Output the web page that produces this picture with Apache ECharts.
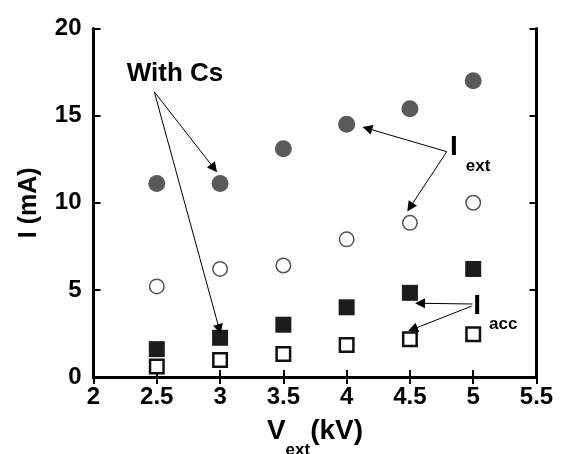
<!DOCTYPE html>
<html><head><meta charset="utf-8">
<script src="https://cdn.jsdelivr.net/npm/echarts@6/dist/echarts.min.js"></script>
<style>html,body{margin:0;padding:0;background:#fff}#c{width:561px;height:454px}</style>
</head><body><div id="c"></div>
<script>
// Data
const voltages = [2.5, 3, 3.5, 4, 4.5, 5];
const iextWithCs = [11.1, 11.1, 13.1, 14.5, 15.4, 17.0];
const iextNoCs   = [5.2, 6.2, 6.4, 7.9, 8.85, 10.0];
const iaccWithCs = [1.6, 2.25, 3.0, 4.0, 4.83, 6.2];
const iaccNoCs   = [0.6, 0.97, 1.32, 1.83, 2.16, 2.46];
const xTicks = [2, 2.5, 3, 3.5, 4, 4.5, 5, 5.5];
const yTicks = [0, 5, 10, 15, 20];

// Annotation texts anchored in data coordinates
const noteText = ['With Cs', 'I', 'ext', 'I', 'acc'];
const noteX    = [2.644, 4.817, 4.941, 5.001, 5.125];
const noteY    = [17.39, 13.21, 12.09, 4.07, 3.03];
const noteKind = ['big', 'I', 'sub', 'I', 'sub'];

// Arrows: [fromX, fromY, toX, toY] in data coordinates
const arrowFromX = [2.480, 2.480, 4.791, 4.791, 4.994, 4.988];
const arrowFromY = [16.37, 16.37, 12.93, 12.93, 4.19, 4.07];
const arrowToX   = [2.952, 2.994, 4.163, 4.501, 4.580, 4.522];
const arrowToY   = [11.98, 2.74, 14.27, 9.74, 4.23, 2.74];

const FONT = "'Liberation Sans', Arial, Helvetica, sans-serif";
const pair = (xs, ys) => xs.map((x, i) => [x, ys[i]]);

const noteStyles = {
  big: {fontSize: 26, align: 'center'},
  I:   {fontSize: 28, align: 'left'},
  sub: {fontSize: 17, align: 'left'}
};

const chart = echarts.init(document.getElementById('c'), null, {renderer: 'canvas'});
const axisCommon = {
  type: 'value',
  axisLine: {show: true, lineStyle: {color: '#000', width: 3}},
  axisTick: {show: true, inside: true, length: 7, lineStyle: {color: '#000', width: 2}},
  splitLine: {show: false}
};
chart.setOption({
  animation: false,
  backgroundColor: '#fff',
  grid: {left: 93.5, right: 24.5, top: 28.5, bottom: 77, containLabel: false, outerBoundsMode: 'none'},
  xAxis: [
    Object.assign({}, axisCommon, {
      position: 'bottom', min: xTicks[0], max: xTicks[xTicks.length - 1], interval: 0.5,
      axisLabel: {show: true, margin: 8, color: '#000', fontFamily: FONT, fontWeight: 'bold', fontSize: 24},
      name: '{v|V}{s|ext}{v|(kV)}', nameLocation: 'middle', nameGap: 27,
      nameTextStyle: {
        rich: {
          v: {fontFamily: FONT, fontWeight: 'bold', fontSize: 28, color: '#000', lineHeight: 55, verticalAlign: 'middle'},
          s: {fontFamily: FONT, fontWeight: 'bold', fontSize: 17, color: '#000', lineHeight: 55, verticalAlign: 'bottom'}
        }
      }
    }),
    Object.assign({}, axisCommon, {
      position: 'top', min: xTicks[0], max: xTicks[xTicks.length - 1], interval: 0.5,
      axisLabel: {show: false}
    })
  ],
  yAxis: [
    Object.assign({}, axisCommon, {
      position: 'left', min: yTicks[0], max: yTicks[yTicks.length - 1], interval: 5,
      axisLabel: {show: true, margin: 12, color: '#000', fontFamily: FONT, fontWeight: 'bold', fontSize: 24, padding: [0, 0, 7, 0]},
      name: 'I (mA)', nameLocation: 'middle', nameGap: 52,
      nameTextStyle: {fontFamily: FONT, fontWeight: 'bold', fontSize: 25, color: '#000'}
    }),
    Object.assign({}, axisCommon, {
      position: 'right', min: yTicks[0], max: yTicks[yTicks.length - 1], interval: 5,
      axisLabel: {show: false}
    })
  ],
  series: [
    {type: 'scatter', name: 'Iext with Cs', data: pair(voltages, iextWithCs), symbol: 'circle', symbolSize: 17,
     itemStyle: {color: '#5a5a5a', opacity: 1}, z: 3},
    {type: 'scatter', name: 'Iext', data: pair(voltages, iextNoCs), symbol: 'circle', symbolSize: 14.5,
     itemStyle: {color: '#fff', borderColor: '#555', borderWidth: 1.5, opacity: 1}, z: 3},
    {type: 'scatter', name: 'Iacc with Cs', data: pair(voltages, iaccWithCs), symbol: 'rect', symbolSize: 16,
     itemStyle: {color: '#1c1c1c', opacity: 1}, z: 3},
    {type: 'scatter', name: 'Iacc', data: pair(voltages, iaccNoCs), symbol: 'rect', symbolSize: 13.5,
     itemStyle: {color: '#fff', borderColor: '#111', borderWidth: 2.5, opacity: 1}, z: 3},
    {type: 'scatter', name: 'notes', silent: true, symbolSize: 0, z: 5,
     itemStyle: {opacity: 1, color: '#000'},
     data: noteText.map((t, i) => ({
       value: [noteX[i], noteY[i]],
       label: Object.assign({show: true, position: 'inside', formatter: t, color: '#000', opacity: 1,
         fontFamily: FONT, fontWeight: 'bold', verticalAlign: 'middle'}, noteStyles[noteKind[i]])
     })),
     markLine: {
       silent: true, animation: false,
       symbol: ['none', 'triangle'], symbolSize: 10,
       label: {show: false},
       lineStyle: {color: '#000', width: 1, type: 'solid', opacity: 1},
       itemStyle: {color: '#000'},
       emphasis: {disabled: true},
       data: arrowFromX.map((x, i) => [
         {coord: [x, arrowFromY[i]]},
         {coord: [arrowToX[i], arrowToY[i]]}
       ])
     }
    }
  ]
});
</script>
</body></html>
